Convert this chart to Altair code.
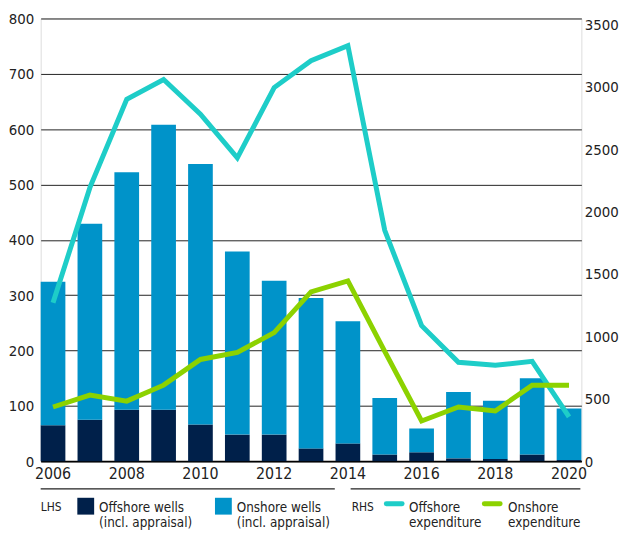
import altair as alt
import pandas as pd

# ---------------- data ----------------
years = list(range(2006, 2021))
offshore_wells = [65, 75, 93, 93, 66, 48, 48, 23, 32, 12, 16, 5, 4, 12, 2]
onshore_wells = [259, 354, 429, 515, 471, 331, 278, 272, 221, 102, 43, 120, 105, 138, 93]
offshore_exp = [1269, 2192, 2900, 3059, 2780, 2430, 2994, 3209, 3329, 1850, 1086, 792, 768, 800, 354]
onshore_exp = [434, 529, 481, 609, 815, 871, 1030, 1356, 1444, 880, 322, 434, 402, 609, 609]
year_ticks = [2006, 2008, 2010, 2012, 2014, 2016, 2018, 2020]
lhs_ticks = list(range(0, 801, 100))
rhs_ticks = list(range(0, 3501, 500))
bar_series = ["Offshore wells", "Onshore wells"]
line_series = ["Offshore expenditure", "Onshore expenditure"]

NAVY = "#00204A"
BLUE = "#0093C9"
CYAN = "#1ECDC8"
GREEN = "#8CD200"
TXT = "#222222"
FONT = "Liberation Sans Narrow, Arial Narrow, DejaVu Sans Condensed, sans-serif"
AX_FS = 15
LEG_FS = 13.5

W, H = 546, 447

bars = pd.DataFrame(
    [{"year": y, "series": bar_series[0], "value": v, "ord": 0} for y, v in zip(years, offshore_wells)]
    + [{"year": y, "series": bar_series[1], "value": v, "ord": 1} for y, v in zip(years, onshore_wells)]
)
lines = pd.DataFrame(
    [{"year": y, "series": line_series[0], "value": v} for y, v in zip(years, offshore_exp)]
    + [{"year": y, "series": line_series[1], "value": v} for y, v in zip(years, onshore_exp)]
)

xenc = alt.X(
    "year:O",
    scale=alt.Scale(paddingInner=0.33, paddingOuter=0),
    axis=alt.Axis(
        values=year_ticks, labelAngle=0, title=None, ticks=False, domain=True,
        domainColor="black", domainWidth=2, labelFont=FONT, labelFontSize=16,
        labelColor=TXT, labelPadding=5,
    ),
)

bar_layer = alt.Chart(bars).mark_bar().encode(
    x=xenc,
    y=alt.Y(
        "value:Q", stack="zero", scale=alt.Scale(domain=[0, 800], nice=False),
        axis=alt.Axis(
            values=lhs_ticks, grid=True, gridColor="#222222", gridWidth=1,
            domain=False, ticks=False, labelPadding=7, title=None,
            labelFont=FONT, labelFontSize=AX_FS, labelColor=TXT,
        ),
    ),
    color=alt.Color("series:N", scale=alt.Scale(domain=bar_series, range=[NAVY, BLUE]), legend=None),
    order=alt.Order("ord:Q"),
)

yline = alt.Y(
    "value:Q", scale=alt.Scale(domain=[0, 3500], range=[447, 6], nice=False),
    axis=alt.Axis(
        orient="right", values=rhs_ticks, format="d", grid=False, domain=False, ticks=False,
        labelPadding=3, title=None, labelFont=FONT, labelFontSize=AX_FS, labelColor=TXT,
    ),
)

off_line = alt.Chart(lines).transform_filter(alt.datum.series == line_series[0]).mark_line(
    color=CYAN, strokeWidth=5, strokeJoin="miter"
).encode(x="year:O", y=yline)
on_line = alt.Chart(lines).transform_filter(alt.datum.series == line_series[1]).mark_line(
    color=GREEN, strokeWidth=5, strokeJoin="miter"
).encode(x="year:O", y=yline)

line_layer = alt.layer(off_line, on_line)

# ---------------- custom legend (pixel layout) ----------------
seps = pd.DataFrame([
    {"x": 0, "x2": 297, "y": 475},
    {"x": 313, "x2": 545, "y": 475},
])
sep_layer = alt.Chart(seps).mark_rule(color="#222222", strokeWidth=1.2).encode(
    x=alt.X("x:Q", scale=None, axis=None), x2="x2:Q", y=alt.Y("y:Q", scale=None, axis=None)
)

squares = pd.DataFrame([
    {"x": 37, "x2": 54, "y": 484, "y2": 501, "c": NAVY},
    {"x": 176, "x2": 193, "y": 484, "y2": 501, "c": BLUE},
])
sq_layer = alt.Chart(squares).mark_rect().encode(
    x=alt.X("x:Q", scale=None, axis=None), x2="x2:Q",
    y=alt.Y("y:Q", scale=None, axis=None), y2="y2:Q",
    color=alt.Color("c:N", scale=None, legend=None),
)

swatches = pd.DataFrame([
    {"x": 349, "x2": 365, "y": 490, "c": CYAN},
    {"x": 448, "x2": 464, "y": 490, "c": GREEN},
])
sw_layer = alt.Chart(swatches).mark_rule(strokeWidth=5, strokeCap="round").encode(
    x=alt.X("x:Q", scale=None, axis=None), x2="x2:Q",
    y=alt.Y("y:Q", scale=None, axis=None),
    color=alt.Color("c:N", scale=None, legend=None),
)

labels = pd.DataFrame([
    {"x": 59, "y": 498, "t": "Offshore wells"},
    {"x": 59, "y": 514, "t": "(incl. appraisal)"},
    {"x": 198, "y": 498, "t": "Onshore wells"},
    {"x": 198, "y": 514, "t": "(incl. appraisal)"},
    {"x": 372, "y": 498, "t": "Offshore"},
    {"x": 372, "y": 514, "t": "expenditure"},
    {"x": 472, "y": 498, "t": "Onshore"},
    {"x": 472, "y": 514, "t": "expenditure"},
])
lab_layer = alt.Chart(labels).mark_text(
    align="left", baseline="alphabetic", font=FONT, fontSize=LEG_FS, color=TXT
).encode(
    x=alt.X("x:Q", scale=None, axis=None), y=alt.Y("y:Q", scale=None, axis=None), text="t:N"
)

hdr = pd.DataFrame([
    {"x": 0, "y": 497, "t": "LHS"},
    {"x": 314, "y": 497, "t": "RHS"},
])
hdr_layer = alt.Chart(hdr).mark_text(
    align="left", baseline="alphabetic", font=FONT, fontSize=12, color=TXT
).encode(
    x=alt.X("x:Q", scale=None, axis=None), y=alt.Y("y:Q", scale=None, axis=None), text="t:N"
)

legend = alt.layer(sep_layer, sq_layer, sw_layer, lab_layer, hdr_layer)

chart = (
    alt.layer(bar_layer, line_layer, legend)
    .resolve_scale(y="independent", color="independent")
    .properties(
        width=W, height=H,
        autosize=alt.AutoSizeParams(type="none"),
        padding={"left": 33, "top": 8, "right": 38, "bottom": 72},
    )
    .configure_view(stroke=None)
    .configure_axis(domain=False, ticks=False)
    .configure(background="white")
)

chart.save("out.html", embed_options={"renderer": "svg", "actions": False})
